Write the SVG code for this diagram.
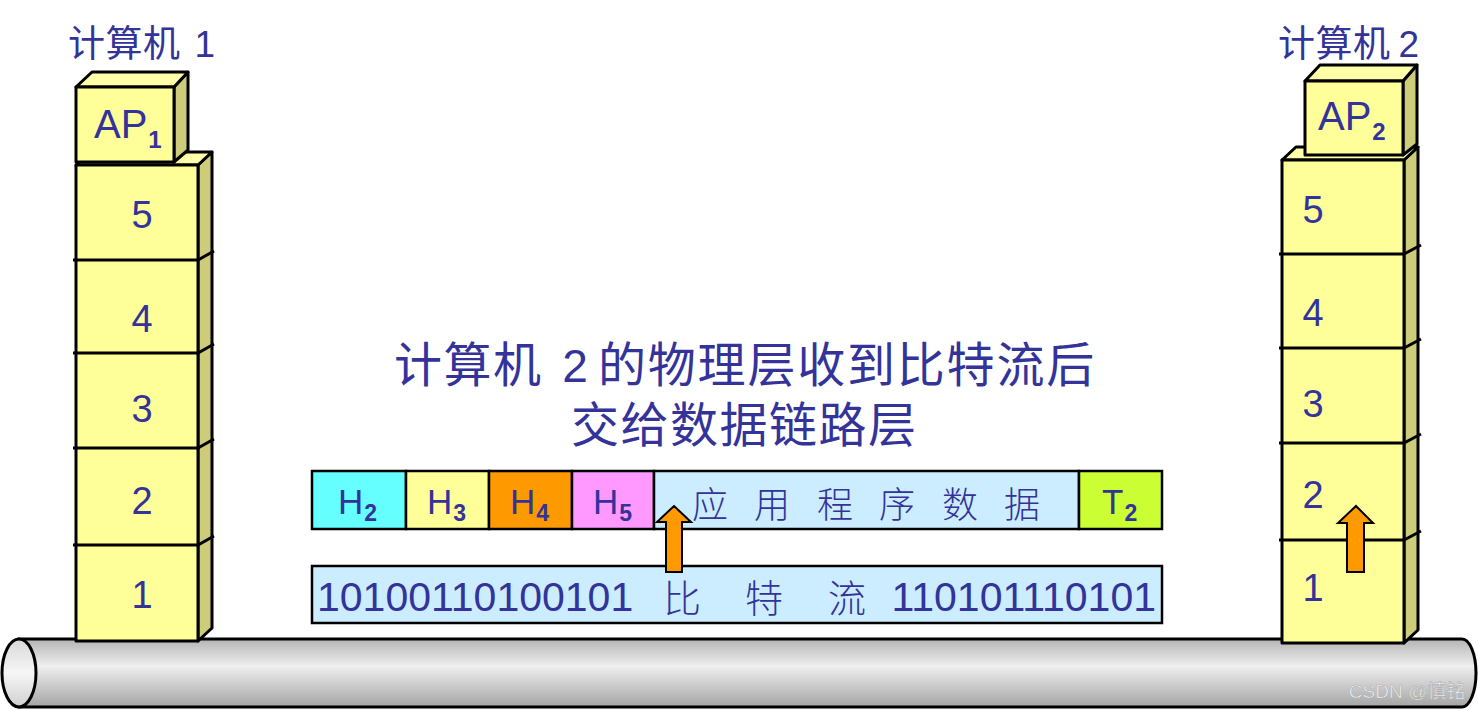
<svg xmlns="http://www.w3.org/2000/svg" width="1478" height="710" viewBox="0 0 1478 710">
<style>
.t{font-family:"Liberation Sans",Arial,"Noto Sans CJK SC",sans-serif;fill:#333399}
.cjk{font-family:"Noto Sans CJK SC",sans-serif;fill:#333399}
.front{fill:#FFFF99;stroke:#000;stroke-width:3;stroke-linejoin:round}
.side{fill:#CCCC7A;stroke:#000;stroke-width:3;stroke-linejoin:round}
.top{fill:#FFFFAA;stroke:#000;stroke-width:3;stroke-linejoin:round}
.div{stroke:#000;stroke-width:3;fill:none}
.cell{stroke:#000;stroke-width:2.5}
.num{font-size:38px;text-anchor:middle}
.hd{font-size:35px}
.sub{font-size:23px;font-weight:bold}
.arrow{fill:#FF9900;stroke:#000;stroke-width:2;stroke-linejoin:miter}
</style>
<defs>
<linearGradient id="pipe" x1="0" y1="0" x2="0" y2="1">
<stop offset="0" stop-color="#b4b4b4"/>
<stop offset="0.4" stop-color="#efefef"/>
<stop offset="1" stop-color="#a4a4a4"/>
</linearGradient>
<linearGradient id="pipeEnd" x1="0" y1="0" x2="0" y2="1">
<stop offset="0" stop-color="#d8d8d8"/>
<stop offset="0.5" stop-color="#f6f6f6"/>
<stop offset="1" stop-color="#d0d0d0"/>
</linearGradient>
</defs>
<rect width="1478" height="710" fill="#fff"/>

<g id="cable">
<path d="M19,639 L1462,639 A14,34 0 0 1 1462,707 L19,707 Z" fill="url(#pipe)" stroke="#000" stroke-width="3"/>
<ellipse cx="19" cy="673" rx="17" ry="34" fill="url(#pipeEnd)" stroke="#000" stroke-width="3"/>
<text x="1407" y="698" style="font-family:'Liberation Sans','Noto Sans CJK SC',sans-serif;font-size:19px;fill:#f2f2f2;stroke:#a8a8a8;stroke-width:0.5;text-anchor:middle">CSDN @慎铭</text>
</g>

<g id="computer1">
<text class="cjk" x="68" y="57" style="font-size:37px;letter-spacing:0.5px">计算机<tspan class="t" dx="14">1</tspan></text>
<polygon class="side" points="198,165 212,152 212,628 198,641"/>
<polygon class="top" points="76,165 90,152 212,152 198,165"/>
<rect class="front" x="76" y="165" width="122" height="476"/>
<path class="div" d="M73,260 H198 L214,251 M73,353 H198 L214,344 M73,448 H198 L214,439 M73,545 H198 L214,536"/>
<text class="t num" x="142" y="228">5</text>
<text class="t num" x="142" y="332">4</text>
<text class="t num" x="142" y="422">3</text>
<text class="t num" x="142" y="514">2</text>
<text class="t num" x="142" y="608">1</text>
<polygon class="side" points="174,87 188,72 188,150 174,162"/>
<polygon class="top" points="76,87 92,72 188,72 174,87"/>
<rect class="front" x="76" y="87" width="98" height="75"/>
<text class="t" x="94" y="138" style="font-size:40px">AP<tspan dx="1" dy="10" class="sub" style="font-size:24px">1</tspan></text>
</g>

<g id="computer2">
<text class="cjk" x="1278" y="57" style="font-size:37px;letter-spacing:0.5px">计算机<tspan class="t" dx="8">2</tspan></text>
<polygon class="side" points="1404,160 1418,147 1418,630 1404,643"/>
<polygon class="top" points="1282,160 1296,147 1418,147 1404,160"/>
<rect class="front" x="1282" y="160" width="122" height="483"/>
<path class="div" d="M1279,254 H1404 L1421,245 M1279,348 H1404 L1421,339 M1279,443 H1404 L1421,434 M1279,540 H1404 L1421,531"/>
<text class="t num" x="1313" y="223">5</text>
<text class="t num" x="1313" y="326">4</text>
<text class="t num" x="1313" y="417">3</text>
<text class="t num" x="1313" y="508">2</text>
<text class="t num" x="1313" y="601">1</text>
<polygon class="side" points="1403,81 1417,65 1417,144 1403,155"/>
<polygon class="top" points="1305,81 1320,65 1417,65 1403,81"/>
<rect class="front" x="1305" y="81" width="98" height="74"/>
<text class="t" x="1318" y="130" style="font-size:40px">AP<tspan dx="1" dy="10" class="sub" style="font-size:24px">2</tspan></text>
<polygon class="arrow" points="1356,506 1373,523 1364,523 1364,572 1347,572 1347,523 1338,523"/>
</g>

<g id="title">
<text class="cjk" x="394" y="382" style="font-size:48px;letter-spacing:1.5px">计算机</text>
<text class="t" x="575" y="382" style="font-size:46px;text-anchor:middle">2</text>
<text class="cjk" x="598" y="382" style="font-size:48px;letter-spacing:1.8px">的物理层收到比特流后</text>
<text class="cjk" x="571" y="442" style="font-size:48px;letter-spacing:1.5px">交给数据链路层</text>
</g>

<g id="frame">
<rect class="cell" x="312" y="471" width="94" height="58" fill="#66FFFF"/>
<rect class="cell" x="406" y="471" width="83" height="58" fill="#FFFF99"/>
<rect class="cell" x="489" y="471" width="83" height="58" fill="#FF9900"/>
<rect class="cell" x="572" y="471" width="82" height="58" fill="#FF99FF"/>
<rect class="cell" x="654" y="471" width="425" height="58" fill="#CCECFF"/>
<rect class="cell" x="1079" y="471" width="83" height="58" fill="#CCFF33"/>
<text class="t hd" x="338" y="514">H<tspan dx="1" dy="7" class="sub">2</tspan></text>
<text class="t hd" x="427" y="514">H<tspan dx="1" dy="7" class="sub">3</tspan></text>
<text class="t hd" x="510" y="514">H<tspan dx="1" dy="7" class="sub">4</tspan></text>
<text class="t hd" x="593" y="514">H<tspan dx="1" dy="7" class="sub">5</tspan></text>
<text class="t hd" x="1102" y="514">T<tspan dx="1" dy="7" class="sub">2</tspan></text>
<g class="cjk" style="font-size:36px;text-anchor:middle;font-weight:300">
<text x="710" y="518">应</text>
<text x="772" y="518">用</text>
<text x="835" y="518">程</text>
<text x="897" y="518">序</text>
<text x="960" y="518">数</text>
<text x="1022" y="518">据</text>
</g>
</g>

<g id="bitstream">
<rect class="cell" x="312" y="566" width="850" height="57" fill="#CCECFF"/>
<text class="t" x="317" y="611" style="font-size:41px">10100110100101</text>
<g class="cjk" style="font-size:38px;text-anchor:middle;font-weight:300">
<text x="682" y="612">比</text>
<text x="764" y="612">特</text>
<text x="847" y="612">流</text>
</g>
<text class="t" x="1156" y="611" style="font-size:41px;text-anchor:end">110101110101</text>
</g>

<g id="connectors">
<polygon class="arrow" points="674,506 691,522 682,522 682,572 666,572 666,522 657,522"/>
</g>
</svg>
